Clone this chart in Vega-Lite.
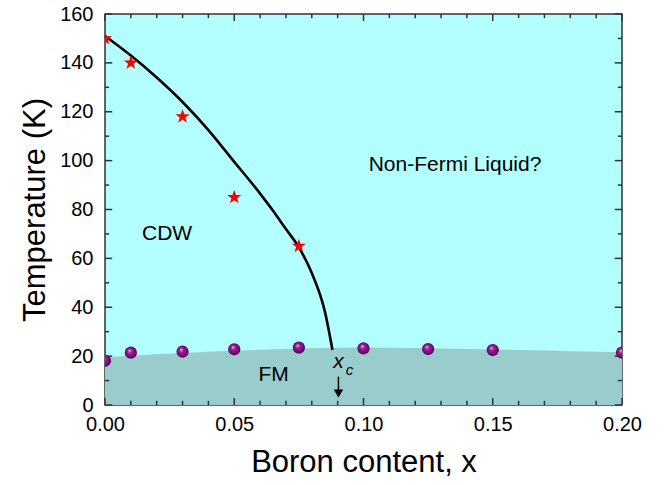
{
  "$schema": "https://vega.github.io/schema/vega-lite/v6.json",
  "width": 517,
  "height": 391,
  "autosize": {"type": "none"},
  "padding": {"left": 105, "top": 14, "right": 47, "bottom": 80},
  "background": "white",
  "config": {
    "view": {"fill": "#B3FFFF", "stroke": "#333333", "strokeWidth": 1.5},
    "axis": {
      "grid": false,
      "domain": false,
      "ticks": false,
      "labelFlush": false,
      "labelFont": "Liberation Sans",
      "titleFont": "Liberation Sans",
      "labelFontSize": 20,
      "titleFontSize": 31,
      "titleFontWeight": "normal",
      "labelColor": "black",
      "titleColor": "black"
    },
    "text": {"font": "Liberation Sans"}
  },
  "datasets": {
    "fm_edge": [
      {"x": 0.0, "T": 19.5}, {"x": 0.02, "T": 20.8}, {"x": 0.04, "T": 21.8},
      {"x": 0.06, "T": 22.6}, {"x": 0.08, "T": 23.2}, {"x": 0.1, "T": 23.5},
      {"x": 0.12, "T": 23.3}, {"x": 0.14, "T": 22.9}, {"x": 0.16, "T": 22.5},
      {"x": 0.18, "T": 22.0}, {"x": 0.2, "T": 21.6}
    ],
    "cdw_curve": [
      {"x": 0.0, "T": 151}, {"x": 0.01, "T": 143}, {"x": 0.02, "T": 134},
      {"x": 0.03, "T": 124}, {"x": 0.04, "T": 112.5}, {"x": 0.05, "T": 99.5},
      {"x": 0.06, "T": 86.5}, {"x": 0.065, "T": 79.5}, {"x": 0.07, "T": 72},
      {"x": 0.075, "T": 64.5}, {"x": 0.08, "T": 54}, {"x": 0.085, "T": 38.5},
      {"x": 0.088, "T": 22.5}
    ],
    "cdw_pts": [
      {"x": 0.0, "T": 150}, {"x": 0.01, "T": 140}, {"x": 0.03, "T": 118},
      {"x": 0.05, "T": 85}, {"x": 0.075, "T": 65}
    ],
    "fm_pts": [
      {"x": 0.0, "T": 18.1}, {"x": 0.01, "T": 21.4}, {"x": 0.03, "T": 21.8},
      {"x": 0.05, "T": 22.8}, {"x": 0.075, "T": 23.5}, {"x": 0.1, "T": 23.2},
      {"x": 0.125, "T": 22.9}, {"x": 0.15, "T": 22.5}, {"x": 0.2, "T": 21.4}
    ],
    "phase_names": [
      {"x": 0.024, "T": 69.8, "label": "CDW"},
      {"x": 0.1354, "T": 98.2, "label": "Non-Fermi Liquid?"},
      {"x": 0.0652, "T": 12.3, "label": "FM"}
    ],
    "xc_main": [{"x": 0.0903, "T": 15.2, "label": "x"}],
    "xc_sub": [{"x": 0.0946, "T": 12.3, "label": "c"}],
    "xc_arrow": [{"x": 0.0903, "T": 11.6, "T2": 4.5}],
    "xc_head": [{"x": 0.0903, "T": 4.7}],
    "x_ticks": [
      {"x": 0.0, "kind": "major"}, {"x": 0.01, "kind": "minor"}, {"x": 0.02, "kind": "minor"},
      {"x": 0.03, "kind": "minor"}, {"x": 0.04, "kind": "minor"}, {"x": 0.05, "kind": "major"},
      {"x": 0.06, "kind": "minor"}, {"x": 0.07, "kind": "minor"}, {"x": 0.08, "kind": "minor"},
      {"x": 0.09, "kind": "minor"}, {"x": 0.1, "kind": "major"}, {"x": 0.11, "kind": "minor"},
      {"x": 0.12, "kind": "minor"}, {"x": 0.13, "kind": "minor"}, {"x": 0.14, "kind": "minor"},
      {"x": 0.15, "kind": "major"}, {"x": 0.16, "kind": "minor"}, {"x": 0.17, "kind": "minor"},
      {"x": 0.18, "kind": "minor"}, {"x": 0.19, "kind": "minor"}, {"x": 0.2, "kind": "major"}
    ],
    "y_ticks": [
      {"T": 0, "kind": "major"}, {"T": 10, "kind": "minor"}, {"T": 20, "kind": "major"},
      {"T": 30, "kind": "minor"}, {"T": 40, "kind": "major"}, {"T": 50, "kind": "minor"},
      {"T": 60, "kind": "major"}, {"T": 70, "kind": "minor"}, {"T": 80, "kind": "major"},
      {"T": 90, "kind": "minor"}, {"T": 100, "kind": "major"}, {"T": 110, "kind": "minor"},
      {"T": 120, "kind": "major"}, {"T": 130, "kind": "minor"}, {"T": 140, "kind": "major"},
      {"T": 150, "kind": "minor"}, {"T": 160, "kind": "major"}
    ]
  },
  "layer": [
    {
      "data": {"name": "fm_edge"},
      "mark": {"type": "area", "color": "#99CCCC", "interpolate": "monotone"},
      "encoding": {
        "x": {
          "field": "x", "type": "quantitative",
          "scale": {"domain": [0, 0.2], "nice": false, "zero": false},
          "axis": {
            "values": [0, 0.05, 0.1, 0.15, 0.2],
            "format": ".2f",
            "labelPadding": 9,
            "title": "Boron content, x",
            "titlePadding": 13
          }
        },
        "y": {
          "field": "T", "type": "quantitative",
          "scale": {"domain": [0, 160], "nice": false},
          "axis": {
            "values": [0, 20, 40, 60, 80, 100, 120, 140, 160],
            "labelPadding": 12,
            "title": "Temperature (K)",
            "titlePadding": 8
          }
        }
      }
    },
    {
      "data": {"name": "x_ticks"},
      "transform": [{"filter": "datum.kind == 'major'"}],
      "layer": [
        {
          "mark": {"type": "rule", "color": "#333333", "strokeWidth": 1.5},
          "encoding": {"x": {"field": "x", "type": "quantitative"}, "y": {"datum": 0}, "y2": {"datum": 2.9}}
        },
        {
          "mark": {"type": "rule", "color": "#333333", "strokeWidth": 1.5},
          "encoding": {"x": {"field": "x", "type": "quantitative"}, "y": {"datum": 160}, "y2": {"datum": 157.1}}
        }
      ]
    },
    {
      "data": {"name": "x_ticks"},
      "transform": [{"filter": "datum.kind == 'minor'"}],
      "layer": [
        {
          "mark": {"type": "rule", "color": "#333333", "strokeWidth": 1.5},
          "encoding": {"x": {"field": "x", "type": "quantitative"}, "y": {"datum": 0}, "y2": {"datum": 1.7}}
        },
        {
          "mark": {"type": "rule", "color": "#333333", "strokeWidth": 1.5},
          "encoding": {"x": {"field": "x", "type": "quantitative"}, "y": {"datum": 160}, "y2": {"datum": 158.3}}
        }
      ]
    },
    {
      "data": {"name": "y_ticks"},
      "transform": [{"filter": "datum.kind == 'major'"}],
      "layer": [
        {
          "mark": {"type": "rule", "color": "#333333", "strokeWidth": 1.5},
          "encoding": {"y": {"field": "T", "type": "quantitative"}, "x": {"datum": 0}, "x2": {"datum": 0.0028}}
        },
        {
          "mark": {"type": "rule", "color": "#333333", "strokeWidth": 1.5},
          "encoding": {"y": {"field": "T", "type": "quantitative"}, "x": {"datum": 0.2}, "x2": {"datum": 0.1972}}
        }
      ]
    },
    {
      "data": {"name": "y_ticks"},
      "transform": [{"filter": "datum.kind == 'minor'"}],
      "layer": [
        {
          "mark": {"type": "rule", "color": "#333333", "strokeWidth": 1.5},
          "encoding": {"y": {"field": "T", "type": "quantitative"}, "x": {"datum": 0}, "x2": {"datum": 0.0016}}
        },
        {
          "mark": {"type": "rule", "color": "#333333", "strokeWidth": 1.5},
          "encoding": {"y": {"field": "T", "type": "quantitative"}, "x": {"datum": 0.2}, "x2": {"datum": 0.1984}}
        }
      ]
    },
    {
      "data": {"name": "cdw_curve"},
      "mark": {"type": "line", "color": "black", "strokeWidth": 2.6, "interpolate": "monotone"},
      "encoding": {
        "x": {"field": "x", "type": "quantitative"},
        "y": {"field": "T", "type": "quantitative"}
      }
    },
    {
      "data": {"name": "cdw_pts"},
      "mark": {
        "type": "point",
        "shape": "M0,-1L0.235,-0.324L0.951,-0.309L0.38,0.124L0.588,0.809L0,0.4L-0.588,0.809L-0.38,0.124L-0.951,-0.309L-0.235,-0.324Z",
        "filled": true, "color": "#FF0000", "size": 220, "opacity": 1, "clip": true
      },
      "encoding": {
        "x": {"field": "x", "type": "quantitative"},
        "y": {"field": "T", "type": "quantitative"}
      }
    },
    {
      "data": {"name": "fm_pts"},
      "mark": {
        "type": "circle", "size": 150, "opacity": 1, "clip": true,
        "fill": {
          "gradient": "radial", "x1": 0.38, "y1": 0.32, "r1": 0, "x2": 0.5, "y2": 0.5, "r2": 0.55,
          "stops": [
            {"offset": 0, "color": "#F4D0F4"},
            {"offset": 0.3, "color": "#A0209E"},
            {"offset": 1, "color": "#4E004E"}
          ]
        }
      },
      "encoding": {
        "x": {"field": "x", "type": "quantitative"},
        "y": {"field": "T", "type": "quantitative"}
      }
    },
    {
      "data": {"name": "phase_names"},
      "mark": {"type": "text", "fontSize": 21, "color": "black", "align": "center", "baseline": "middle"},
      "encoding": {
        "x": {"field": "x", "type": "quantitative"},
        "y": {"field": "T", "type": "quantitative"},
        "text": {"field": "label"}
      }
    },
    {
      "data": {"name": "xc_main"},
      "mark": {"type": "text", "fontSize": 21, "fontStyle": "italic", "color": "black", "align": "center", "baseline": "alphabetic"},
      "encoding": {
        "x": {"field": "x", "type": "quantitative"},
        "y": {"field": "T", "type": "quantitative"},
        "text": {"field": "label"}
      }
    },
    {
      "data": {"name": "xc_sub"},
      "mark": {"type": "text", "fontSize": 15, "fontStyle": "italic", "color": "black", "align": "center", "baseline": "alphabetic"},
      "encoding": {
        "x": {"field": "x", "type": "quantitative"},
        "y": {"field": "T", "type": "quantitative"},
        "text": {"field": "label"}
      }
    },
    {
      "data": {"name": "xc_arrow"},
      "mark": {"type": "rule", "color": "black", "strokeWidth": 1.5},
      "encoding": {
        "x": {"field": "x", "type": "quantitative"},
        "y": {"field": "T", "type": "quantitative"},
        "y2": {"field": "T2"}
      }
    },
    {
      "data": {"name": "xc_head"},
      "mark": {"type": "point", "shape": "triangle-down", "filled": true, "color": "black", "size": 90, "opacity": 1},
      "encoding": {
        "x": {"field": "x", "type": "quantitative"},
        "y": {"field": "T", "type": "quantitative"}
      }
    }
  ]
}
